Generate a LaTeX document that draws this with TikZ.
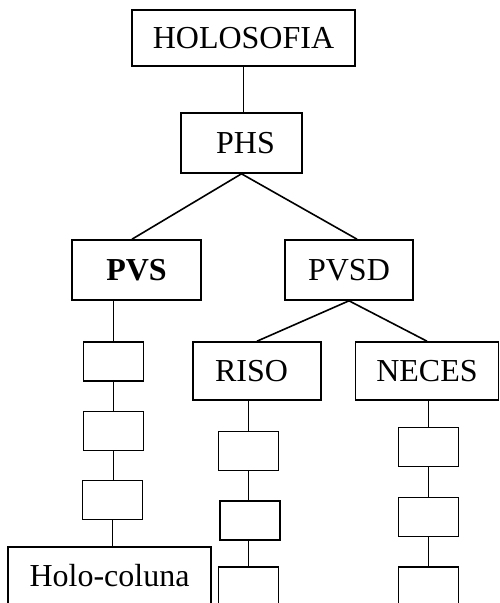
\documentclass[tikz,border=0pt]{standalone}
\usepackage{fontspec}
\setmainfont{Liberation Serif}
\usepackage{tikz}

\begin{document}
\begin{tikzpicture}[x=1pt,y=-1pt,line width=1.6pt,
    box/.style={draw,inner sep=0pt,font=\fontsize{32}{38}\selectfont},
    smallbox/.style={draw,inner sep=0pt,minimum width=60pt,minimum height=39pt}]
  \useasboundingbox (0,0) rectangle (499,603);
  \clip (0,0) rectangle (499,603);
  \node[box,minimum width=223pt,minimum height=56pt] (holosofia) at (243.5,38) {HOLOSOFIA};
  \node[box,minimum width=121pt,minimum height=60pt,text width=97pt,inner xsep=12pt,align=center] (phs) at (241.5,143) {\hspace*{8pt}PHS};
  \node[box,minimum width=129pt,minimum height=60pt] (pvs) at (136.5,270) {\textbf{PVS}};
  \node[box,minimum width=128pt,minimum height=60pt] (pvsd) at (349,270) {PVSD};
  % left column
  \node[smallbox] (p1) at (113.5,361.5) {};
  \node[smallbox] (p2) at (113.5,431) {};
  \node[smallbox] (p3) at (112.5,500) {};
  \node[box,minimum width=203pt,minimum height=58pt] (holocoluna) at (109.5,576) {Holo-coluna};
  % right branches
  \node[box,minimum width=128pt,minimum height=58pt,text width=84pt,inner xsep=22pt,align=left] (riso) at (257,371) {RISO};
  \node[box,minimum width=143pt,minimum height=58pt] (neces) at (427,371) {NECES};
  \node[smallbox] (r1) at (248.5,451) {};
  \node[smallbox] (r2) at (250,520.5) {};
  \node[smallbox] (r3) at (248.5,586.5) {};
  \node[smallbox] (n1) at (428.5,447) {};
  \node[smallbox] (n2) at (428.5,517) {};
  \node[smallbox] (n3) at (428.5,586.5) {};
  \draw (holosofia.south) -- (holosofia.south |- phs.north);
  \draw (phs.south) -- ([xshift=-4.5pt]pvs.north);
  \draw (phs.south) -- ([xshift=8pt]pvsd.north);
  \draw (p1.north |- pvs.south) -- (p1.north);
  \draw (p1.south) -- (p2.north);
  \draw (p2.south) -- (p2.south |- p3.north);
  \draw (p3.south) -- (p3.south |- holocoluna.north);
  \draw (pvsd.south) -- (riso.north);
  \draw (pvsd.south) -- (neces.north);
  \draw (r1.north |- riso.south) -- (r1.north);
  \draw (r1.south) -- (r1.south |- r2.north);
  \draw (r3.north |- r2.south) -- (r3.north);
  \draw (n1.north |- neces.south) -- (n1.north);
  \draw (n1.south) -- (n2.north);
  \draw (n2.south) -- (n3.north);
\end{tikzpicture}
\end{document}
